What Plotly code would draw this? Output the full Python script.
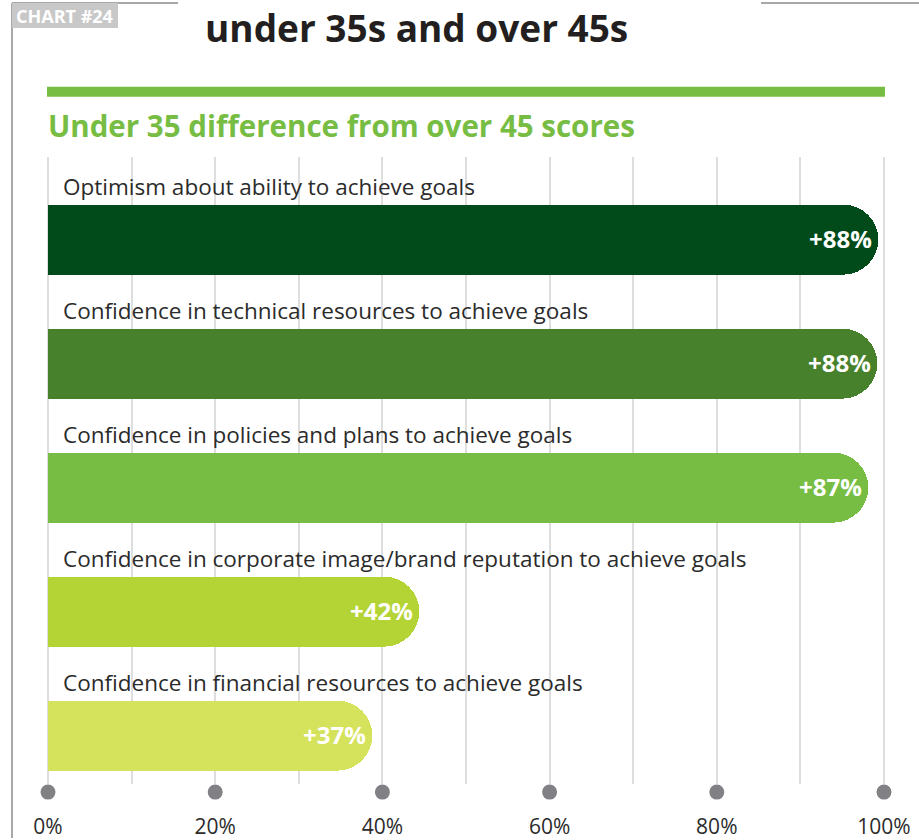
import plotly.graph_objects as go

# ---- data ----
categories = [
    "Optimism about ability to achieve goals",
    "Confidence in technical resources to achieve goals",
    "Confidence in policies and plans to achieve goals",
    "Confidence in corporate image/brand reputation to achieve goals",
    "Confidence in financial resources to achieve goals",
]
# bar lengths as drawn in the picture (axis %)
bar_lengths = [99.3, 99.2, 98.1, 44.4, 38.8]
value_labels = ["+88%", "+88%", "+87%", "+42%", "+37%"]
bar_colors = ["#014b1b", "#47812b", "#77bd43", "#b4d334", "#d5e25b"]
tick_values = [0, 20, 40, 60, 80, 100]
tick_labels = ["0%", "20%", "40%", "60%", "80%", "100%"]

REF_W = 919
W, H = 929, 840           # layout width (screenshot is fitted to 919)
SX = W / REF_W
FONT = "Open Sans"
TXT = "#2b2b2b"


def px(x):
    """reference pixel x -> paper fraction"""
    return x * SX / W


def py(y):
    return 1 - y / H


# pixel mapping helpers (layout only)
px0, px100 = 48, 884
ppu = (px100 - px0) / 100.0
xr = [-2, 102]
xd = [px(px0 + xr[0] * ppu), px(px0 + xr[1] * ppu)]

grid_top, grid_bot = 157, 786
row0, row_step = 240, 124.4
y_lo = (grid_top - row0) / row_step
y_hi = (grid_bot - row0) / row_step
dot_px = 794

fig = go.Figure()
fig.add_trace(go.Bar(
    x=bar_lengths, y=categories, orientation="h",
    width=70 / row_step,
    marker=dict(color=bar_colors, cornerradius="50%", line=dict(width=0)),
    hoverinfo="skip", showlegend=False,
))

annotations = []
for cat, v, lab in zip(categories, bar_lengths, value_labels):
    annotations.append(dict(
        x=0, y=cat, xref="x", yref="y", text=cat, showarrow=False,
        xanchor="left", yanchor="middle", xshift=13 * SX, yshift=53,
        font=dict(family=FONT, size=22.5, color=TXT),
    ))
    annotations.append(dict(
        x=v, y=cat, xref="x", yref="y", text="<b>" + lab + "</b>", showarrow=False,
        xanchor="right", yanchor="middle", xshift=-4 * SX, yshift=1,
        font=dict(family=FONT, size=24, color="white"),
    ))

# titles
annotations.append(dict(
    x=px(416), y=py(28), xref="paper", yref="paper",
    text="<b>under 35s and over 45s</b>", showarrow=False,
    xanchor="center", yanchor="middle",
    font=dict(family=FONT, size=37, color="#231f20"),
))
annotations.append(dict(
    x=px(46), y=py(126), xref="paper", yref="paper",
    text="<b>Under 35 difference from over 45 scores</b>", showarrow=False,
    xanchor="left", yanchor="middle",
    font=dict(family=FONT, size=29.5, color="#77bd43"),
))
annotations.append(dict(
    x=px(65), y=py(16), xref="paper", yref="paper",
    text="<b>CHART #24</b>", showarrow=False,
    xanchor="center", yanchor="middle",
    font=dict(family=FONT, size=18, color="white"),
))

shapes = [
    # frame
    dict(type="line", xref="paper", yref="paper", x0=px(12), x1=px(12), y0=0, y1=py(3),
         line=dict(color="#a8a8a8", width=2)),
    dict(type="line", xref="paper", yref="paper", x0=px(12), x1=px(178), y0=py(3), y1=py(3),
         line=dict(color="#a8a8a8", width=2)),
    dict(type="line", xref="paper", yref="paper", x0=px(761), x1=1, y0=py(3), y1=py(3),
         line=dict(color="#a8a8a8", width=2)),
    # chart tag
    dict(type="rect", xref="paper", yref="paper", x0=px(12), x1=px(118), y0=py(28), y1=py(3),
         fillcolor="#c8c8c8", line=dict(width=0)),
    # green rule
    dict(type="rect", xref="paper", yref="paper", x0=px(47), x1=px(885), y0=py(97), y1=py(87),
         fillcolor="#77bd43", line=dict(width=0)),
]
# dots at the bottom, positioned through the x axis
for tv in tick_values:
    shapes.append(dict(
        type="circle", xref="x", yref="paper",
        xsizemode="pixel", ysizemode="pixel",
        xanchor=tv, yanchor=py(dot_px),
        x0=-7.5, x1=7.5, y0=-7.5, y1=7.5,
        fillcolor="#808085", line=dict(width=0), layer="above",
    ))

fig.update_layout(
    width=W, height=H, autosize=False,
    margin=dict(l=0, r=0, t=0, b=0),
    paper_bgcolor="white", plot_bgcolor="white",
    bargap=0,
    annotations=annotations, shapes=shapes,
    xaxis=dict(
        domain=xd, range=xr, anchor="y",
        tickvals=tick_values, ticktext=tick_labels,
        showgrid=True, gridcolor="#dedede", gridwidth=2,
        minor=dict(dtick=10, tick0=0, showgrid=True, gridcolor="#dedede", gridwidth=2),
        zeroline=False, showline=False, ticks="",
        ticklabelstandoff=28,
        tickfont=dict(family=FONT, size=21, color=TXT),
        fixedrange=True,
    ),
    yaxis=dict(
        domain=[1 - grid_bot / H, 1 - grid_top / H],
        range=[y_hi, y_lo], type="category",
        showgrid=False, zeroline=False, showticklabels=False, showline=False,
        fixedrange=True,
    ),
)

fig.write_html(
    "out.html",
    config=dict(displayModeBar=False, responsive=False),
    post_script="document.body.style.margin='0';document.body.style.overflow='hidden';",
)
